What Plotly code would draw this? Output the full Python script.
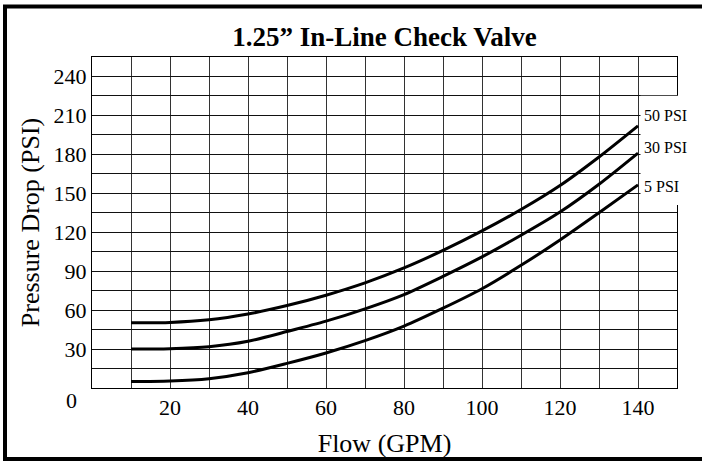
import plotly.graph_objects as go

# ---- data ----
flow_gpm = [10, 20, 30, 40, 50, 60, 70, 80, 90, 100, 110, 120, 130, 140]
drop_50psi = [50.3, 50.5, 52.5, 57.0, 63.5, 71.5, 81, 92.5, 106, 121, 137.5, 156, 178, 202]
drop_30psi = [30, 30.3, 31.8, 36.0, 43.5, 51.5, 61, 72, 86, 101, 117.7, 135.6, 157, 181]
drop_5psi = [5, 5.4, 7.2, 11.8, 19, 27, 36.5, 47.7, 61.5, 76.5, 94.5, 114, 135, 156.5]
series_names = ["50 PSI", "30 PSI", "5 PSI"]
label_y = [210, 185.5, 155]

x_grid_vals = list(range(0, 151, 10))
x_tick_labels = {20: "20", 40: "40", 60: "60", 80: "80", 100: "100", 120: "120", 140: "140"}
y_grid_vals = list(range(0, 256, 15))
y_tick_labels = {30: "30", 60: "60", 90: "90", 120: "120", 150: "150", 180: "180", 210: "210", 240: "240"}

title_text = "<b>1.25\u201d In-Line Check Valve</b>"
x_title = "Flow (GPM)"
y_title = "Pressure Drop (PSI)"

FONT = "Liberation Serif, Times New Roman, serif"

W, H = 702, 462
ML, MR, MT, MB = 92, 25, 57, 74
PW, PH = W - ML - MR, H - MT - MB


def px_x(p):
    return (p - ML) / PW


def px_y(p):
    return (H - MB - p) / PH


fig = go.Figure()
for name, ys in zip(series_names, [drop_50psi, drop_30psi, drop_5psi]):
    fig.add_trace(go.Scatter(
        x=flow_gpm, y=ys, mode="lines", name=name,
        line=dict(color="black", width=3, shape="spline", smoothing=0.8),
        showlegend=False, hoverinfo="x+y+name",
    ))

shapes = [
    # white patch behind the series labels
    dict(type="rect", xref="paper", yref="paper",
         x0=px_x(640.5), x1=px_x(700), y0=px_y(205), y1=px_y(95.8),
         fillcolor="white", line=dict(width=0), layer="above"),
    # outer figure frame
    dict(type="rect", xref="paper", yref="paper",
         x0=px_x(5), x1=px_x(712), y0=px_y(459), y1=px_y(6.5),
         fillcolor="rgba(0,0,0,0)", line=dict(color="black", width=4), layer="above"),
]

annotations = []
for name, yv in zip(series_names, label_y):
    annotations.append(dict(
        text=name, xref="paper", yref="y", x=px_x(642), y=yv,
        xanchor="left", yanchor="middle", showarrow=False,
        font=dict(family=FONT, size=16, color="black"),
    ))
annotations.append(dict(
    text="0", xref="paper", yref="paper", x=px_x(71), y=px_y(400),
    xanchor="center", yanchor="middle", showarrow=False,
    font=dict(family=FONT, size=22, color="black"),
))

fig.update_layout(
    width=W, height=H,
    margin=dict(l=ML, r=MR, t=MT, b=MB, autoexpand=False),
    paper_bgcolor="white", plot_bgcolor="white",
    font=dict(family=FONT, color="black"),
    title=dict(text=title_text, x=px_x(384.5), xref="paper", xanchor="center",
               y=1 - 37 / H, yref="container", yanchor="middle",
               font=dict(family=FONT, size=27, color="black")),
    shapes=shapes, annotations=annotations,
)

fig.update_xaxes(
    range=[0, 150], tickmode="array", tickvals=x_grid_vals,
    ticktext=[x_tick_labels.get(v, "") for v in x_grid_vals],
    showgrid=True, gridcolor="#333", gridwidth=1.2,
    showline=True, linecolor="black", linewidth=1, mirror=True,
    ticks="", zeroline=False,
    tickfont=dict(family=FONT, size=22, color="black"),
    title=dict(text=x_title, font=dict(family=FONT, size=26, color="black"), standoff=14),
    automargin=False, fixedrange=True,
)
fig.update_yaxes(
    range=[0, 255], tickmode="array", tickvals=y_grid_vals,
    ticktext=[y_tick_labels.get(v, "") for v in y_grid_vals],
    showgrid=True, gridcolor="#111", gridwidth=1,
    showline=True, linecolor="black", linewidth=1, mirror=True,
    ticks="", zeroline=False,
    tickfont=dict(family=FONT, size=22, color="black"),
    title=dict(text=y_title, font=dict(family=FONT, size=26, color="black"), standoff=6),
    automargin=False, fixedrange=True,
)

fig.write_html("out.html", config={"displayModeBar": False},
               post_script="document.body.style.margin='0px';document.body.style.overflow='hidden';")
